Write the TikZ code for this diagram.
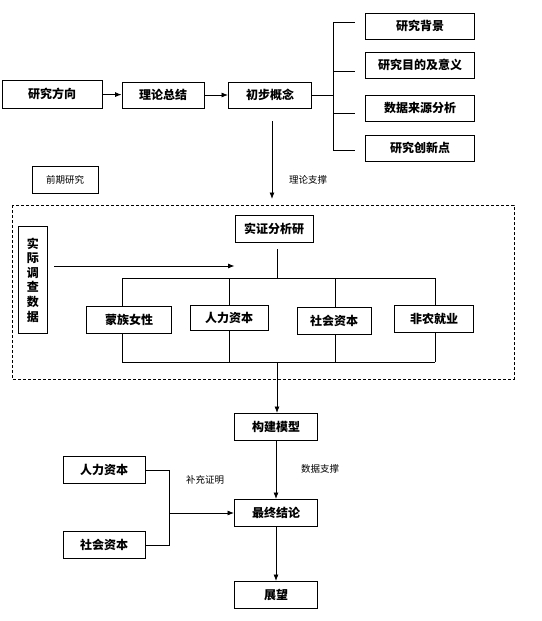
\documentclass[tikz,border=0pt]{standalone}
\usepackage{fontspec}
\setmainfont{Noto Sans CJK SC}
\usepackage{tikz}
\usetikzlibrary{arrows,arrows.meta}
\usetikzlibrary{positioning}
\tikzstyle{line} = [draw, -{Latex[length=6.5pt,width=5pt]}]
\tikzset{
	box/.style={draw=black, line width=0.9pt, inner sep=0pt, minimum height=27pt,
		font=\fontsize{12}{14}\selectfont\bfseries},
	wbox/.style={box, minimum width=83pt},
	rbox/.style={box, minimum width=109pt, minimum height=26pt},
	note/.style={inner sep=0pt, font=\fontsize{9.5}{11}\selectfont},
	bus/.style={draw=black, line width=0.8pt},
}

\begin{document}
\begin{tikzpicture}[x=1pt, y=-1pt, line width=0.8pt]
	\useasboundingbox (0,0) rectangle (541,621);
	\node[box, minimum width=100pt, minimum height=28pt] (fx) at (52,94) {研究方向};
	\node[box, minimum width=82pt, minimum height=26pt] (zj) at (163,95) {理论总结};
	\node[wbox, minimum height=26pt] (gn) at (270,95) {初步概念};
	\draw[line] (fx)--(zj);
	\draw[line] (zj)--(gn);
	\node[rbox] (bj) at (420,26) {研究背景};
	\node[rbox] (md) at (420,65) {研究目的及意义};
	\node[rbox] (ly) at (420,108) {数据来源分析};
	\node[rbox] (cx) at (420,148) {研究创新点};
	\coordinate (br) at (333,95);
	\draw[bus] (gn.east)--(br);
	\draw[bus] (333,22)--(333,150);
	\foreach \y/\t in {22/bj,71/md,113/ly,150/cx}
		\draw[bus] (333,\y)--(355,\y);
	\node[draw=black, line width=0.9pt, minimum width=66pt, minimum height=27pt, inner sep=0pt,
		font=\fontsize{9.5}{11}\selectfont] (qq) at (65,180) {前期研究};
	\coordinate (ll1) at (272,121);
	\coordinate (ll2) at (272,199);
	\draw[line] (ll1)--(ll2);
	\node[note] (llzc) at (308,180) {理论支撑};
	\draw[dashed, line width=0.7pt, dash pattern=on 3pt off 2pt] (12,205) rectangle (514,379);
	\node[box, minimum width=78pt] (sz) at (274,229) {实证分析研};
	\node[draw=black, line width=0.9pt, minimum width=29pt, minimum height=107pt, inner sep=0pt,
		align=center, font=\fontsize{12}{14.6}\selectfont\bfseries] (dc) at (33,280) {实\\际\\调\\查\\数\\据};
	\coordinate (dc1) at (54,266);
	\draw[line] (dc1)--(dc1 -| sz.west);
	\node[box, minimum width=85pt] (mz) at (129,320) {蒙族女性};
	\node[box, minimum width=78pt, minimum height=25pt] (rl) at (229,318) {人力资本};
	\node[box, minimum width=74pt] (sh) at (334,321) {社会资本};
	\node[box, minimum width=79pt] (fn) at (434,319) {非农就业};
	\coordinate (top) at (277,278);
	\coordinate (bot) at (277,362);
	\draw[bus] (277,249)--(top);
	\draw[bus] (122,278)--(435,278);
	\draw[bus] (122,362)--(435,362);
	\foreach \b/\x in {mz/122,rl/229,sh/335,fn/435}{
		\draw[bus] (\x,278)--(\b.north -| \x,0);
		\draw[bus] (\b.south -| \x,0)--(\x,362);
	}
	\node[wbox] (jm) at (276,427) {构建模型};
	\draw[line] (bot)--(jm.north -| bot);
	\node[wbox] (jl) at (276,513) {最终结论};
	\node[wbox] (zw) at (276,595) {展望};
	\draw[line] (jm)--(jl);
	\node[note] (sjzc) at (320,469) {数据支撑};
	\draw[line] (jl)--(zw);
	\node[box, minimum width=82pt] (rl2) at (104,470) {人力资本};
	\node[box, minimum width=82pt] (sh2) at (104,545) {社会资本};
	\coordinate (bc) at (169,513);
	\draw[bus] (rl2.east)--(rl2.east -| bc)--(sh2.east -| bc)--(sh2.east);
	\draw[line] (bc)--(jl.west);
	\node[note] (bczm) at (205,480) {补充证明};
\end{tikzpicture}
\end{document}
